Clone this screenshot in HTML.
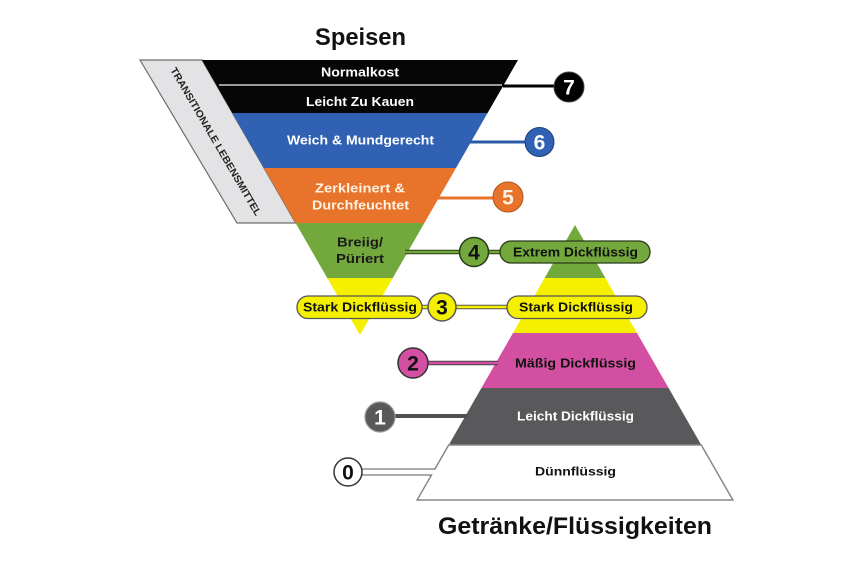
<!DOCTYPE html>
<html><head><meta charset="utf-8"><style>
html,body{margin:0;padding:0;background:#fff;}
svg{display:block}
text{font-family:"Liberation Sans",sans-serif;font-weight:bold;}
</style></head><body>
<svg width="850" height="566" viewBox="0 0 850 566" xmlns="http://www.w3.org/2000/svg">
<rect width="850" height="566" fill="#fff"/>

<!-- Titles -->
<text x="360.5" y="45" font-size="24" text-anchor="middle" textLength="91" lengthAdjust="spacingAndGlyphs" fill="#111">Speisen</text>
<text x="575" y="534" font-size="24" text-anchor="middle" textLength="274" lengthAdjust="spacingAndGlyphs" fill="#111">Getränke/Flüssigkeiten</text>

<!-- Transitional band -->
<polygon points="140,60 202,60 295.6,223 237,223" fill="#e3e3e5" stroke="#6d6d6d" stroke-width="1.2"/>
<text transform="translate(216,141.5) rotate(59.7)" x="0" y="3.5" font-size="10" text-anchor="middle" textLength="170" lengthAdjust="spacingAndGlyphs" fill="#222">TRANSITIONALE LEBENSMITTEL</text>

<!-- Inverted triangle -->
<polygon points="202,60 518,60 487.6,113 232.4,113" fill="#060606"/>
<line x1="219" y1="85" x2="502" y2="85" stroke="#9a9a9a" stroke-width="2"/>
<polygon points="232.4,113 487.6,113 456,168 264,168" fill="#3061b2"/>
<polygon points="264,168 456,168 424.4,223 295.6,223" fill="#e8732b"/>
<polygon points="295.6,223 424.4,223 392.8,278 327.2,278" fill="#73a83d"/>
<polygon points="327.2,278 392.8,278 360,335" fill="#f4f000"/>

<!-- Upright pyramid -->
<polygon points="575,225 605.4,278 544.6,278" fill="#73a83d"/>
<polygon points="544.6,278 605.4,278 637,333 513,333" fill="#f4f000"/>
<polygon points="513,333 637,333 668.6,388 481.4,388" fill="#d24fa2"/>
<polygon points="481.4,388 668.6,388 701.3,445 448.7,445" fill="#59595b"/>
<polygon points="448.7,445 701.3,445 732.9,500 417.1,500" fill="#fff" stroke="#888" stroke-width="1.5"/>

<!-- Connector 7 -->
<line x1="503" y1="86" x2="556" y2="86" stroke="#000" stroke-width="3"/>
<circle cx="569" cy="87" r="15" fill="#000" stroke="#444" stroke-width="1"/>
<text x="569" y="94.5" font-size="21" text-anchor="middle" fill="#fff">7</text>

<!-- Connector 6 -->
<line x1="470" y1="142" x2="527" y2="142" stroke="#2b5aa8" stroke-width="3"/>
<circle cx="539.5" cy="142" r="14.5" fill="#3061b2" stroke="#1d3f7a" stroke-width="1"/>
<text x="539.5" y="149.5" font-size="21" text-anchor="middle" fill="#fff">6</text>

<!-- Connector 5 -->
<line x1="438" y1="198" x2="495" y2="198" stroke="#e8732b" stroke-width="3"/>
<circle cx="508" cy="197" r="15" fill="#e8732b" stroke="#b0541a" stroke-width="1"/>
<text x="508" y="204.5" font-size="21" text-anchor="middle" fill="#fdf3e3">5</text>

<!-- Connector 4 -->
<line x1="405" y1="252" x2="502" y2="252" stroke="#2a3a1a" stroke-width="4.5"/>
<line x1="405" y1="252" x2="502" y2="252" stroke="#73a83d" stroke-width="2.5"/>
<circle cx="474" cy="252" r="14.5" fill="#73a83d" stroke="#2a3a1a" stroke-width="1.5"/>
<text x="474" y="259.5" font-size="21" text-anchor="middle" fill="#111">4</text>
<rect x="500" y="241" width="150" height="22" rx="11" ry="11" fill="#73a83d" stroke="#2a3a1a" stroke-width="1.3"/>
<text x="575.5" y="256.5" font-size="12.5" text-anchor="middle" textLength="125" lengthAdjust="spacingAndGlyphs" fill="#111">Extrem Dickflüssig</text>

<!-- Connector 3 -->
<line x1="420" y1="307" x2="509" y2="307" stroke="#555" stroke-width="4.5"/>
<line x1="420" y1="307" x2="509" y2="307" stroke="#f4f000" stroke-width="2.5"/>
<rect x="297" y="296" width="125" height="22.5" rx="11" ry="11" fill="#f4f000" stroke="#555" stroke-width="1.3"/>
<text x="360" y="311.5" font-size="12.5" text-anchor="middle" textLength="114" lengthAdjust="spacingAndGlyphs" fill="#111">Stark Dickflüssig</text>
<circle cx="442" cy="307" r="14" fill="#f4f000" stroke="#555" stroke-width="1.5"/>
<text x="442" y="314.5" font-size="21" text-anchor="middle" fill="#111">3</text>
<rect x="507" y="296" width="140" height="22.5" rx="11" ry="11" fill="#f4f000" stroke="#555" stroke-width="1.3"/>
<text x="576" y="311.5" font-size="12.5" text-anchor="middle" textLength="114" lengthAdjust="spacingAndGlyphs" fill="#111">Stark Dickflüssig</text>

<!-- Connector 2 -->
<line x1="427" y1="363" x2="498" y2="363" stroke="#444" stroke-width="4.5"/>
<line x1="427" y1="363" x2="498" y2="363" stroke="#d24fa2" stroke-width="2.5"/>
<circle cx="413" cy="363" r="15" fill="#d24fa2" stroke="#333" stroke-width="1.5"/>
<text x="413" y="370.5" font-size="21" text-anchor="middle" fill="#111">2</text>
<text x="575.5" y="367.5" font-size="12.5" text-anchor="middle" textLength="121" lengthAdjust="spacingAndGlyphs" fill="#111">Mäßig Dickflüssig</text>

<!-- Connector 1 -->
<line x1="394" y1="416" x2="468" y2="416" stroke="#505052" stroke-width="4"/>
<circle cx="380" cy="417" r="15" fill="#59595b" stroke="#9a9a9a" stroke-width="1.2"/>
<text x="380" y="424.5" font-size="21" text-anchor="middle" fill="#fff">1</text>
<text x="575.5" y="420.5" font-size="12.5" text-anchor="middle" textLength="117" lengthAdjust="spacingAndGlyphs" fill="#fff">Leicht Dickflüssig</text>

<!-- Connector 0 -->
<polygon points="360,469.6 436,469.6 432.5,474.4 360,474.4" fill="#fff"/>
<line x1="361" y1="469" x2="435" y2="469" stroke="#777" stroke-width="1.3"/>
<line x1="361" y1="475" x2="431.5" y2="475" stroke="#777" stroke-width="1.3"/>
<circle cx="348" cy="472" r="14" fill="#fff" stroke="#333" stroke-width="1.5"/>
<text x="348" y="479.5" font-size="21" text-anchor="middle" fill="#111">0</text>
<text x="575.5" y="475.5" font-size="12" text-anchor="middle" textLength="81" lengthAdjust="spacingAndGlyphs" fill="#111">Dünnflüssig</text>

<!-- Inverted triangle labels -->
<text x="360" y="76.5" font-size="12.5" text-anchor="middle" textLength="78" lengthAdjust="spacingAndGlyphs" fill="#fff">Normalkost</text>
<text x="360" y="106" font-size="12.5" text-anchor="middle" textLength="108" lengthAdjust="spacingAndGlyphs" fill="#fff">Leicht Zu Kauen</text>
<text x="360.5" y="144.5" font-size="12.5" text-anchor="middle" textLength="147" lengthAdjust="spacingAndGlyphs" fill="#fff">Weich &amp; Mundgerecht</text>
<text x="360" y="192.5" font-size="12.5" text-anchor="middle" textLength="90" lengthAdjust="spacingAndGlyphs" fill="#fdf3e3">Zerkleinert &amp;</text>
<text x="360.5" y="209.5" font-size="12.5" text-anchor="middle" textLength="97" lengthAdjust="spacingAndGlyphs" fill="#fdf3e3">Durchfeuchtet</text>
<text x="360" y="246.5" font-size="12.5" text-anchor="middle" textLength="46" lengthAdjust="spacingAndGlyphs" fill="#1a1a1a">Breiig/</text>
<text x="360" y="263" font-size="12.5" text-anchor="middle" textLength="48" lengthAdjust="spacingAndGlyphs" fill="#1a1a1a">Püriert</text>
</svg>
</body></html>
